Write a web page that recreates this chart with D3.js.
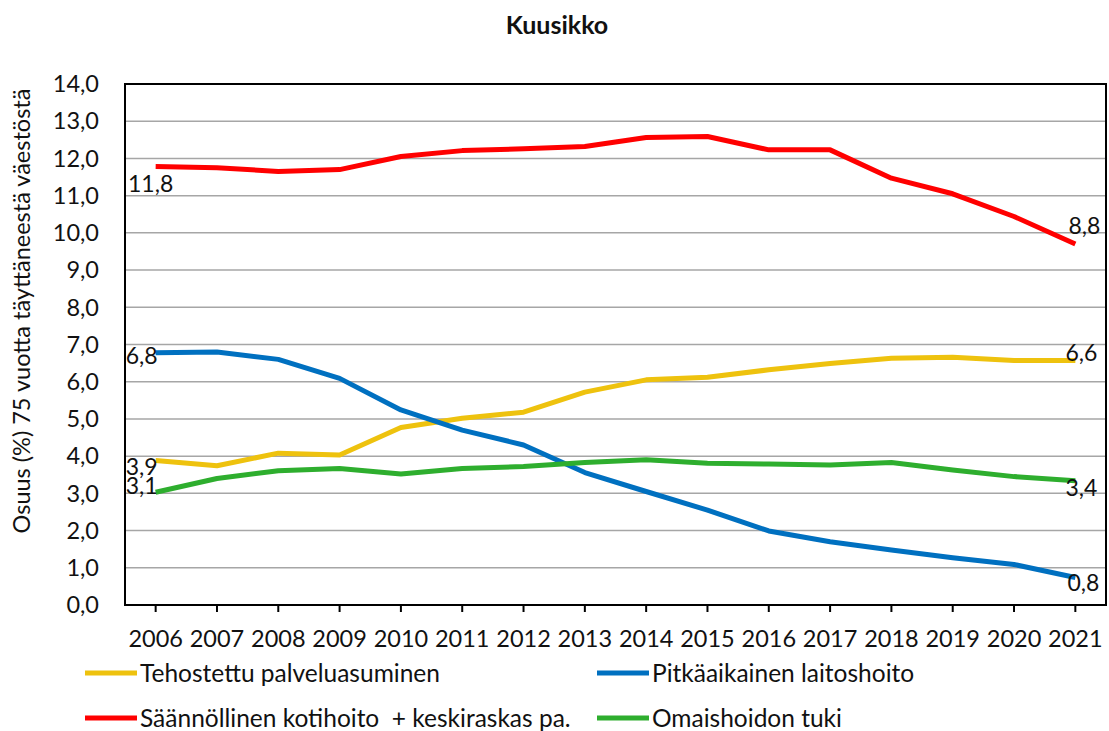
<!DOCTYPE html>
<html>
<head>
<meta charset='utf-8'>
<style>
body { margin: 0; background: #fff; }
text { font-family: Lato, 'Liberation Sans', sans-serif; fill: #111; white-space: pre; }
.grid line { stroke: #a6a6a6; stroke-width: 1.5px; }
.series { fill: none; stroke-width: 5px; stroke-linejoin: round; }
</style>
<script src='https://cdnjs.cloudflare.com/ajax/libs/d3/7.8.5/d3.min.js'></script>
</head>
<body>
<svg id='chart1' width='1109' height='731'></svg>
<script>
// data
var years = ['2006', '2007', '2008', '2009', '2010', '2011', '2012', '2013',
  '2014', '2015', '2016', '2017', '2018', '2019', '2020', '2021'];
var tehostettu = [3.88, 3.74, 4.08, 4.03, 4.77, 5.02, 5.18, 5.72, 6.05, 6.12, 6.32, 6.49, 6.63, 6.66, 6.57, 6.57];
var pitkaaikainen = [6.78, 6.80, 6.60, 6.09, 5.24, 4.70, 4.30, 3.56, 3.05, 2.55, 1.99, 1.70, 1.48, 1.27, 1.09, 0.74];
var kotihoito = [11.78, 11.75, 11.65, 11.70, 12.05, 12.21, 12.26, 12.32, 12.56, 12.59, 12.23, 12.23, 11.47, 11.05, 10.44, 9.70];
var omaishoito = [3.03, 3.40, 3.61, 3.67, 3.52, 3.67, 3.72, 3.83, 3.90, 3.81, 3.79, 3.76, 3.83, 3.63, 3.45, 3.34];
var seriesNames = ['Tehostettu palveluasuminen', 'Pitkäaikainen laitoshoito',
  'Säännöllinen kotihoito  + keskiraskas pa.', 'Omaishoidon tuki'];
var startLabels = ['3,9', '6,8', '11,8', '3,1'];
var endLabels = ['6,6', '0,8', '8,8', '3,4'];
var yTicks = [0, 1, 2, 3, 4, 5, 6, 7, 8, 9, 10, 11, 12, 13, 14];
var title = 'Kuusikko';
var yAxisLabel = 'Osuus (%) 75 vuotta täyttäneestä väestöstä';

var colors = ['#eec20e', '#0070c0', '#ff0000', '#2eae2e'];
var allSeries = [tehostettu, pitkaaikainen, kotihoito, omaishoito];
// label offsets (start dx,dy / end dx,dy), relative to the point
var startPos = [[-14, 6], [-14, 3], [-5, 17], [-14, -6]];
var endPos = [[6, -8], [8, 5], [9, -18], [6, 7]];

var svg = d3.select('#chart1');
var margin = {top: 84, right: 3, bottom: 126, left: 125};
var width = +svg.attr('width') - margin.left - margin.right;
var height = +svg.attr('height') - margin.top - margin.bottom;

var g = svg.append('g').attr('transform',
    'translate(' + margin.left + ',' + margin.top + ')');

var x = d3.scaleBand().domain(years).range([0, width]);
var y = d3.scaleLinear().domain([0, 14]).range([height, 0]);
var xc = function(i) { return x(years[i]) + x.bandwidth() / 2; };

// gridlines
g.append('g').attr('class', 'grid')
  .selectAll('line').data(yTicks.slice(1, -1)).enter().append('line')
  .attr('x1', 0).attr('x2', width)
  .attr('y1', function(d) { return y(d); })
  .attr('y2', function(d) { return y(d); });

// y axis labels
g.append('g').selectAll('text').data(yTicks).enter().append('text')
  .attr('x', -26).attr('y', function(d) { return y(d); })
  .attr('dy', '0.35em').attr('text-anchor', 'end')
  .style('font-size', '23.5px')
  .text(function(d) { return d3.format('.1f')(d).replace('.', ','); });

// plot border
g.append('rect').attr('width', width).attr('height', height)
  .attr('fill', 'none').attr('stroke', '#000').attr('stroke-width', 2);

// x ticks and labels
var xa = g.append('g').attr('transform', 'translate(0,' + height + ')');
xa.selectAll('line').data(years).enter().append('line')
  .attr('x1', function(d) { return x(d) + x.bandwidth() / 2; })
  .attr('x2', function(d) { return x(d) + x.bandwidth() / 2; })
  .attr('y1', 0).attr('y2', 7).attr('stroke', '#000').attr('stroke-width', 2);
xa.selectAll('text').data(years).enter().append('text')
  .attr('x', function(d) { return x(d) + x.bandwidth() / 2; })
  .attr('y', 42).attr('text-anchor', 'middle')
  .style('font-size', '23.5px')
  .text(function(d) { return d; });

// lines
var line = d3.line()
  .x(function(d, i) { return xc(i); })
  .y(function(d) { return y(d); });

allSeries.forEach(function(s, k) {
  g.append('path').datum(s).attr('class', 'series')
    .attr('stroke', colors[k]).attr('d', line);
});

// data labels at both ends
allSeries.forEach(function(s, k) {
  var n = s.length - 1;
  g.append('text')
    .attr('x', xc(0) + startPos[k][0]).attr('y', y(s[0]) + startPos[k][1])
    .attr('dy', '0.35em').attr('text-anchor', 'middle')
    .style('font-size', '23px').text(startLabels[k]);
  g.append('text')
    .attr('x', xc(n) + endPos[k][0]).attr('y', y(s[n]) + endPos[k][1])
    .attr('dy', '0.35em').attr('text-anchor', 'middle')
    .style('font-size', '23px').text(endLabels[k]);
});

// title
svg.append('text').attr('x', 557).attr('y', 34).attr('text-anchor', 'middle')
  .style('font-size', '25px').style('font-weight', 'bold').text(title);

// y axis title
svg.append('text')
  .attr('transform', 'translate(30,' + 311 + ') rotate(-90)')
  .attr('text-anchor', 'middle')
  .style('font-size', '23.5px')
  .text(yAxisLabel);

// legend
var legendPos = [[85, 673], [597, 673], [85, 718], [597, 718]];
var lg = svg.append('g');
seriesNames.forEach(function(name, k) {
  var p = legendPos[k];
  lg.append('line').attr('x1', p[0]).attr('x2', p[0] + 52)
    .attr('y1', p[1]).attr('y2', p[1])
    .attr('stroke', colors[k]).attr('stroke-width', 5);
  lg.append('text').attr('x', p[0] + 55).attr('y', p[1])
    .attr('dy', '0.35em').style('font-size', '24.5px').text(name);
});
</script>
</body>
</html>
